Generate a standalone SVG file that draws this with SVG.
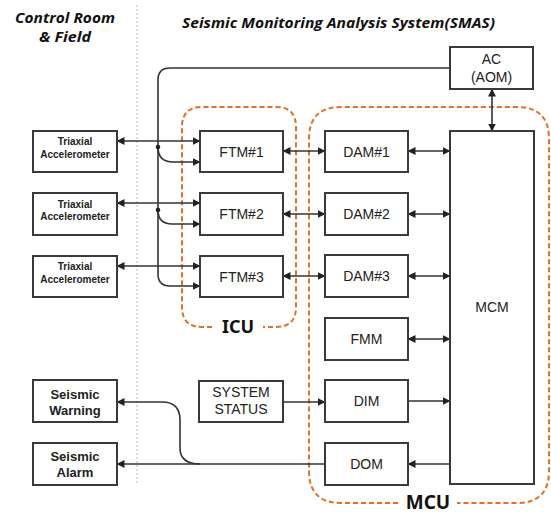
<svg xmlns="http://www.w3.org/2000/svg" width="551" height="514" viewBox="0 0 551 514">
<style>
.box{fill:#fff;stroke:#3a3a3a;stroke-width:2}
.t{font-family:"Liberation Sans",Arial,sans-serif;font-size:14px;fill:#222;text-anchor:middle}
.sm{font-family:"Liberation Sans",Arial,sans-serif;font-size:10px;font-weight:bold;fill:#222;text-anchor:middle}
.sb{font-family:"Liberation Sans",Arial,sans-serif;font-size:13px;font-weight:bold;fill:#222;text-anchor:middle}
.title{font-family:"Open Sans","Liberation Sans",sans-serif;font-size:15px;font-weight:bold;font-style:italic;fill:#111;text-anchor:middle}
.grp{fill:none;stroke:#E07028;stroke-width:2;stroke-dasharray:5 3}
.glab{font-family:"Noto Sans","Liberation Sans",sans-serif;font-weight:bold;fill:#111;text-anchor:middle}
.c{fill:none;stroke:#333;stroke-width:1.6}
.ae{marker-end:url(#ah)}
.ab{marker-end:url(#ah);marker-start:url(#ah)}
</style>
<defs>
<marker id="ah" markerUnits="userSpaceOnUse" markerWidth="8" markerHeight="8" refX="7.5" refY="4" orient="auto-start-reverse">
<path d="M0,0 L8,4 L0,8 z" fill="#222"/>
</marker>
</defs>

<g id="titles">
<text class="title" x="65" y="23" textLength="100" lengthAdjust="spacingAndGlyphs">Control Room</text>
<text class="title" x="65" y="42" textLength="52" lengthAdjust="spacingAndGlyphs">&amp; Field</text>
<text class="title" x="338.5" y="28" textLength="313" lengthAdjust="spacingAndGlyphs">Seismic Monitoring Analysis System(SMAS)</text>
<line x1="137" y1="5" x2="137" y2="485" stroke="#bbb" stroke-width="1" stroke-dasharray="2 2"/>
</g>

<g id="groups">
<g id="ICU">
<path class="grp" d="M212 327 H202 Q182 327 182 307 V127 Q182 107 202 107 H276 Q296 107 296 127 V307 Q296 327 276 327 H263"/>
<text class="glab" x="238" y="333" font-size="18">ICU</text>
</g>
<g id="MCU">
<path class="grp" d="M398 503 H341 Q309 503 309 471 V139 Q309 107 341 107 H517 Q549 107 549 139 V471 Q549 503 517 503 H457"/>
<text class="glab" x="428" y="509" font-size="19">MCU</text>
</g>
</g>

<g id="connectors">
<path class="c ae" d="M450 68 H170 Q158 68 158 80 V274 Q158 286 170 286 H200"/>
<path class="c ae" d="M158 147 Q158 162 173 162 H200"/>
<path class="c ae" d="M158 210 Q158 224 172 224 H200"/>
<circle cx="158" cy="147" r="2.3" fill="#222"/>
<circle cx="158" cy="210" r="2.3" fill="#222"/>
<line class="c ab" x1="117" y1="141" x2="200" y2="141"/>
<line class="c ab" x1="117" y1="203" x2="200" y2="203"/>
<line class="c ab" x1="117" y1="266" x2="200" y2="266"/>
<line class="c ab" x1="283" y1="151" x2="325" y2="151"/>
<line class="c ab" x1="283" y1="214" x2="325" y2="214"/>
<line class="c ab" x1="283" y1="276" x2="325" y2="276"/>
<line class="c ab" x1="408" y1="151" x2="450" y2="151"/>
<line class="c ab" x1="408" y1="214" x2="450" y2="214"/>
<line class="c ab" x1="408" y1="276" x2="450" y2="276"/>
<line class="c ab" x1="408" y1="339" x2="450" y2="339"/>
<line class="c ab" x1="492" y1="89" x2="492" y2="131"/>
<line class="c ae" x1="283" y1="402" x2="325" y2="402"/>
<line class="c ae" x1="408" y1="401" x2="450" y2="401"/>
<line class="c ae" x1="450" y1="464" x2="408" y2="464"/>
<line class="c ae" x1="325" y1="464" x2="117" y2="464"/>
<path class="c ae" d="M200 464 Q180 464 180 448 V420 Q180 402 162 402 H117"/>
</g>

<g id="AC">
<rect class="box" x="450" y="47" width="83" height="42"/>
<text class="t" x="491.5" y="64" font-size="15">AC</text>
<text class="t" x="491.5" y="82" font-size="15">(AOM)</text>
</g>

<g id="TA1">
<rect class="box" x="33" y="131" width="84" height="41"/>
<text class="sm" x="75" y="145">Triaxial</text>
<text class="sm" x="75" y="157.5">Accelerometer</text>
</g>
<g id="TA2">
<rect class="box" x="33" y="193" width="84" height="42"/>
<text class="sm" x="75" y="207.5">Triaxial</text>
<text class="sm" x="75" y="220">Accelerometer</text>
</g>
<g id="TA3">
<rect class="box" x="33" y="256" width="84" height="41"/>
<text class="sm" x="75" y="270">Triaxial</text>
<text class="sm" x="75" y="282.5">Accelerometer</text>
</g>

<g id="SW">
<rect class="box" x="33" y="380" width="84" height="42"/>
<text class="sb" x="75" y="399">Seismic</text>
<text class="sb" x="75" y="414.5">Warning</text>
</g>
<g id="SA">
<rect class="box" x="33" y="443" width="84" height="42"/>
<text class="sb" x="75" y="461">Seismic</text>
<text class="sb" x="75" y="476.5">Alarm</text>
</g>

<g id="FTM1">
<rect class="box" x="200" y="131" width="83" height="41"/>
<text class="t" x="241.5" y="156.5">FTM#1</text>
</g>
<g id="FTM2">
<rect class="box" x="200" y="193" width="83" height="42"/>
<text class="t" x="241.5" y="219">FTM#2</text>
</g>
<g id="FTM3">
<rect class="box" x="200" y="256" width="83" height="41"/>
<text class="t" x="241.5" y="281.5">FTM#3</text>
</g>

<g id="SS">
<rect class="box" x="199" y="381" width="84" height="41"/>
<text class="t" x="241" y="397" fill="#333">SYSTEM</text>
<text class="t" x="241" y="414" fill="#333">STATUS</text>
</g>

<g id="DAM1">
<rect class="box" x="325" y="131" width="83" height="41"/>
<text class="t" x="366.5" y="156.5">DAM#1</text>
</g>
<g id="DAM2">
<rect class="box" x="325" y="193" width="83" height="42"/>
<text class="t" x="366.5" y="219">DAM#2</text>
</g>
<g id="DAM3">
<rect class="box" x="325" y="255" width="83" height="42"/>
<text class="t" x="366.5" y="281">DAM#3</text>
</g>
<g id="FMM">
<rect class="box" x="325" y="318" width="83" height="42"/>
<text class="t" x="366.5" y="344">FMM</text>
</g>
<g id="DIM">
<rect class="box" x="325" y="380" width="83" height="42"/>
<text class="t" x="366.5" y="406">DIM</text>
</g>
<g id="DOM">
<rect class="box" x="325" y="443" width="83" height="42"/>
<text class="t" x="366.5" y="469">DOM</text>
</g>

<g id="MCM">
<rect class="box" x="450" y="131" width="84" height="353"/>
<text class="t" x="492" y="312">MCM</text>
</g>
</svg>
